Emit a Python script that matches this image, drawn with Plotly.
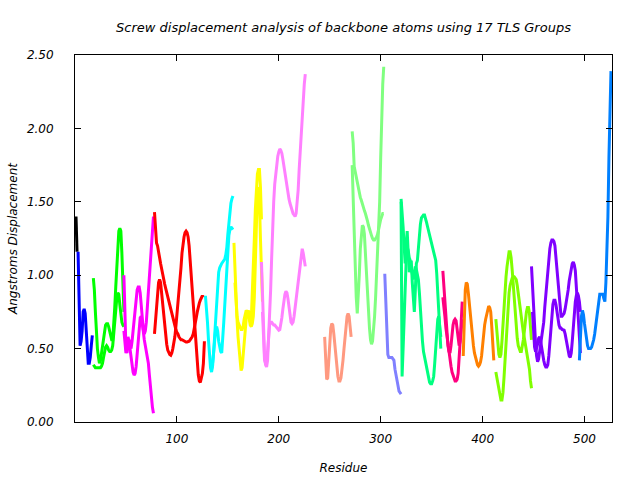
import plotly.graph_objects as go

# ---- data: screw displacement per residue, per TLS group (two atom traces for most groups) ----
g01_black_start = 1
g01_black_a = [1.40, 1.16]

g02_blue_start = 3
g02_blue_a = [1.16, 0.66, 0.52, 0.55, 0.62, 0.75, 0.77, 0.74, 0.62, 0.48, 0.40, 0.40, 0.44, 0.52, 0.59]

g03_green_start = 18
g03_green_a = [0.98, 0.90, 0.75, 0.60, 0.50, 0.44, 0.40, 0.42, 0.47, 0.53, 0.58, 0.63, 0.66, 0.67, 0.67, 0.65,
               0.61, 0.58, 0.56, 0.56, 0.65, 0.78, 0.92, 1.07, 1.20, 1.30, 1.32, 1.30, 1.15, 0.95, 0.75]
g03_green_b = [0.39, 0.38, 0.37, 0.37, 0.37, 0.37, 0.37, 0.37, 0.38, 0.40, 0.44, 0.48, 0.51, 0.52, 0.51, 0.49,
               0.48, 0.48, 0.49, 0.52, 0.60, 0.70, 0.78, 0.84, 0.88, 0.87, 0.80, 0.72, 0.68, 0.66, 0.65]

g04_magenta_start = 48
g04_magenta_a = [1.00, 0.75, 0.50, 0.47, 0.52, 0.56, 0.52, 0.50, 0.55, 0.62, 0.70, 0.78, 0.85, 0.90, 0.92, 0.92,
                 0.88, 0.78, 0.70, 0.63, 0.60, 0.62, 0.68, 0.78, 0.90, 1.02, 1.12, 1.25, 1.35, 1.40]
g04_magenta_b = [0.62, 0.55, 0.47, 0.52, 0.58, 0.55, 0.50, 0.45, 0.38, 0.34, 0.32, 0.33, 0.38, 0.48, 0.58, 0.66,
                 0.71, 0.72, 0.68, 0.62, 0.56, 0.52, 0.48, 0.46, 0.40, 0.32, 0.24, 0.16, 0.10, 0.06]

g05_red_start = 78
g05_red_a = [1.43, 1.30, 1.22, 1.20, 1.17, 1.12, 1.08, 1.04, 1.01, 0.98, 0.94, 0.91, 0.88, 0.85, 0.82, 0.79,
             0.76, 0.74, 0.72, 0.69, 0.66, 0.63, 0.61, 0.60, 0.58, 0.57, 0.56, 0.56, 0.555, 0.55, 0.545, 0.545,
             0.545, 0.545, 0.55, 0.56, 0.57, 0.58, 0.60, 0.63, 0.67, 0.71, 0.75, 0.79, 0.81, 0.83, 0.85, 0.86, 0.85]
g05_red_b = [0.60, 0.70, 0.78, 0.88, 0.95, 0.97, 0.95, 0.88, 0.80, 0.73, 0.67, 0.60, 0.53, 0.49, 0.47, 0.46,
             0.455, 0.47, 0.50, 0.54, 0.58, 0.65, 0.72, 0.80, 0.88, 0.95, 1.05, 1.15, 1.22, 1.26, 1.29, 1.30,
             1.29, 1.26, 1.20, 1.10, 1.01, 0.90, 0.78, 0.68, 0.60, 0.48, 0.38, 0.32, 0.28, 0.27, 0.30, 0.33, 0.40, 0.55]

g06_cyan_start_a = 128
g06_cyan_a = [0.86, 0.78, 0.68, 0.56, 0.45, 0.37, 0.34, 0.38, 0.47, 0.58, 0.70, 0.83, 0.95, 1.02, 1.05, 1.07,
              1.08, 1.09, 1.10, 1.11, 1.14, 1.19, 1.28, 1.37, 1.44, 1.49, 1.52, 1.54]
g06_cyan_start_b = 134
g06_cyan_b = [0.36, 0.40, 0.47, 0.58, 0.63, 0.65, 0.62, 0.55, 0.50, 0.48, 0.47, 0.55, 0.68, 0.80, 0.92, 1.05,
              1.17, 1.27, 1.31, 1.33, 1.32, 1.31]

g07_yellow_start_a = 156
g07_yellow_a = [1.22, 1.00, 0.82, 0.70, 0.58, 0.48, 0.40, 0.35, 0.37, 0.45, 0.58, 0.66, 0.70, 0.73, 0.76, 0.74,
                0.68, 0.70, 0.85, 1.05, 1.25, 1.45, 1.60, 1.69, 1.72, 1.72, 1.60, 1.38]
g07_yellow_start_b = 157
g07_yellow_b = [0.95, 0.80, 0.72, 0.68, 0.66, 0.65, 0.63, 0.63, 0.65, 0.70, 0.74, 0.76, 0.75, 0.73, 0.70, 0.66,
                0.65, 0.67, 0.72, 0.85, 1.10, 1.40, 1.57, 1.60, 1.50, 1.25, 1.00, 0.82]

g08_pink_start_a = 183
g08_pink_a = [1.09, 0.85, 0.60, 0.45, 0.39, 0.375, 0.42, 0.55, 0.69, 0.90, 1.12, 1.35, 1.50, 1.62, 1.70, 1.77,
              1.81, 1.84, 1.86, 1.85, 1.83, 1.79, 1.74, 1.69, 1.65, 1.60, 1.56, 1.52, 1.49, 1.46, 1.44, 1.42,
              1.41, 1.40, 1.42, 1.48, 1.58, 1.72, 1.85, 1.98, 2.10, 2.20, 2.30, 2.37]
g08_pink_start_b = 184
g08_pink_b = [0.75, 0.55, 0.42, 0.40, 0.42, 0.48, 0.57, 0.66, 0.68, 0.68, 0.67, 0.66, 0.66, 0.65, 0.64, 0.63,
              0.625, 0.63, 0.66, 0.71, 0.77, 0.83, 0.87, 0.89, 0.88, 0.84, 0.78, 0.72, 0.68, 0.67, 0.68, 0.72,
              0.78, 0.85, 0.92, 0.98, 1.02, 1.08, 1.14, 1.18, 1.15, 1.08, 1.06]

g09_salmon_start = 245
g09_salmon_a = [0.58, 0.40, 0.29, 0.30, 0.40, 0.55, 0.64, 0.67, 0.66, 0.60, 0.52, 0.44, 0.37, 0.31, 0.28, 0.28,
                0.30, 0.35, 0.42, 0.50, 0.58, 0.66, 0.72, 0.74, 0.72, 0.65, 0.58]

g10_lightgreen_start = 272
g10_lightgreen_a = [1.98, 1.90, 1.74, 1.70, 1.66, 1.63, 1.60, 1.56, 1.53, 1.51, 1.48, 1.46, 1.44, 1.42, 1.40, 1.37,
                    1.34, 1.31, 1.29, 1.27, 1.25, 1.24, 1.24, 1.25, 1.26, 1.28, 1.32, 1.35, 1.38, 1.40, 1.42, 1.42]
g10_lightgreen_b = [1.75, 1.50, 1.30, 1.05, 0.85, 0.74, 0.85, 1.00, 1.18, 1.28, 1.34, 1.33, 1.28, 1.15, 1.01, 0.88,
                    0.75, 0.64, 0.56, 0.53, 0.55, 0.62, 0.72, 0.85, 1.00, 1.15, 1.30, 1.50, 1.80, 2.10, 2.30, 2.42]

g11_periwinkle_start = 304
g11_periwinkle_a = [1.01, 0.80, 0.55, 0.46, 0.44, 0.44, 0.44, 0.44, 0.43, 0.42, 0.36, 0.32, 0.27, 0.24, 0.21, 0.20, 0.19]

g12_spring_start_a = 320
g12_spring_a = [1.52, 1.45, 1.33, 1.20, 1.08, 1.20, 1.30, 1.15, 1.02, 1.06, 1.10, 0.95, 0.82, 0.75, 0.90, 1.08,
                1.10, 1.20, 1.28, 1.35, 1.39, 1.40, 1.41, 1.41, 1.39, 1.36, 1.33, 1.30, 1.27, 1.24, 1.22, 1.20,
                1.17, 1.14, 1.10, 1.01, 0.88, 0.74, 0.55, 0.50]
g12_spring_start_b = 320
g12_spring_b = [1.50, 0.31, 0.50, 0.75, 0.97, 1.10, 1.19, 1.17, 1.12, 1.10, 1.05, 0.99, 0.97, 1.02, 1.06, 1.04, 1.00,
                0.97, 0.88, 0.75, 0.63, 0.55, 0.48, 0.44, 0.40, 0.36, 0.33, 0.30, 0.27, 0.26, 0.26, 0.28, 0.31,
                0.40, 0.50, 0.60, 0.70, 0.72, 0.65, 0.58]

g13_deeppink_start = 361
g13_deeppink_a = [1.03, 0.92, 0.80, 0.70, 0.60, 0.52, 0.48, 0.47, 0.52, 0.60, 0.66, 0.69, 0.70, 0.69, 0.63, 0.55,
                  0.52, 0.55, 0.62, 0.70]
g13_deeppink_b = [0.85, 0.80, 0.72, 0.64, 0.58, 0.52, 0.46, 0.42, 0.38, 0.34, 0.32, 0.30, 0.28, 0.28, 0.29, 0.33,
                  0.42, 0.55, 0.68, 0.82]

g14_orange_start = 381
g14_orange_a = [0.45, 0.72, 0.90, 0.95, 0.94, 0.88, 0.80, 0.72, 0.65, 0.58, 0.52, 0.47, 0.44, 0.41, 0.39, 0.38,
                0.39, 0.41, 0.45, 0.52, 0.60, 0.66, 0.70, 0.74, 0.77, 0.79, 0.78, 0.75, 0.65, 0.52, 0.42]

g15_chartreuse_start = 413
g15_chartreuse_a = [0.70, 0.62, 0.53, 0.46, 0.44, 0.46, 0.55, 0.68, 0.80, 0.90, 0.99, 1.06, 1.12, 1.16, 1.16, 1.12,
                    1.04, 0.94, 0.84, 0.74, 0.65, 0.57, 0.52, 0.49, 0.48, 0.48, 0.51, 0.56, 0.62, 0.70, 0.75, 0.78,
                    0.78, 0.74, 0.65, 0.56]
g15_chartreuse_b = [0.34, 0.30, 0.26, 0.21, 0.17, 0.15, 0.15, 0.20, 0.30, 0.42, 0.55, 0.68, 0.82, 0.88, 0.93, 0.96,
                    0.98, 0.99, 0.99, 0.98, 0.97, 0.93, 0.87, 0.81, 0.76, 0.71, 0.66, 0.61, 0.57, 0.53, 0.49, 0.45,
                    0.42, 0.36, 0.28, 0.23]

g16_violet_start_a = 448
g16_violet_a = [1.06, 0.90, 0.76, 0.62, 0.53, 0.45, 0.41, 0.43, 0.48, 0.52, 0.56, 0.60, 0.68, 0.78, 0.87, 0.96,
                1.05, 1.12, 1.18, 1.22, 1.24, 1.24, 1.23, 1.20, 1.12, 1.03, 0.92, 0.83, 0.76, 0.72, 0.72, 0.73,
                0.74, 0.77, 0.81, 0.85, 0.90, 0.96, 1.01, 1.05, 1.08, 1.09, 1.07, 1.03, 0.94, 0.83, 0.70, 0.58, 0.47]
g16_violet_start_b = 449
g16_violet_b = [0.75, 0.60, 0.51, 0.48, 0.50, 0.53, 0.57, 0.58, 0.55, 0.50, 0.46, 0.42, 0.39, 0.375, 0.375, 0.39,
                0.45, 0.55, 0.65, 0.74, 0.80, 0.83, 0.83, 0.80, 0.74, 0.69, 0.66, 0.64, 0.64, 0.63, 0.63, 0.625,
                0.60, 0.56, 0.51, 0.47, 0.45, 0.44, 0.47, 0.55, 0.65, 0.74, 0.82, 0.86, 0.88, 0.86, 0.82, 0.75]

g17_azure_start = 495
g17_azure_a = [0.42, 0.58, 0.72, 0.76, 0.73, 0.67, 0.61, 0.56, 0.52, 0.50, 0.50, 0.50, 0.51, 0.53, 0.56, 0.60,
               0.66, 0.72, 0.78, 0.84, 0.87, 0.87, 0.87, 0.87, 0.84, 0.82, 0.95, 1.15, 1.40, 1.80, 2.15, 2.39]

x_tick_values = [100, 200, 300, 400, 500]
y_tick_values = [0.0, 0.5, 1.0, 1.5, 2.0, 2.5]

traces = [
    ("#000000", g01_black_start, g01_black_a),
    ("#0000FF", g02_blue_start, g02_blue_a),
    ("#00FF00", g03_green_start, g03_green_a),
    ("#00FF00", g03_green_start, g03_green_b),
    ("#FF00FF", g04_magenta_start, g04_magenta_a),
    ("#FF00FF", g04_magenta_start, g04_magenta_b),
    ("#FF0000", g05_red_start, g05_red_a),
    ("#FF0000", g05_red_start, g05_red_b),
    ("#00FFFF", g06_cyan_start_a, g06_cyan_a),
    ("#00FFFF", g06_cyan_start_b, g06_cyan_b),
    ("#FFFF00", g07_yellow_start_a, g07_yellow_a),
    ("#FFFF00", g07_yellow_start_b, g07_yellow_b),
    ("#FF80FF", g08_pink_start_a, g08_pink_a),
    ("#FF80FF", g08_pink_start_b, g08_pink_b),
    ("#FF9980", g09_salmon_start, g09_salmon_a),
    ("#80FF80", g10_lightgreen_start, g10_lightgreen_a),
    ("#80FF80", g10_lightgreen_start, g10_lightgreen_b),
    ("#8080FF", g11_periwinkle_start, g11_periwinkle_a),
    ("#00FF80", g12_spring_start_a, g12_spring_a),
    ("#00FF80", g12_spring_start_b, g12_spring_b),
    ("#FF0080", g13_deeppink_start, g13_deeppink_a),
    ("#FF0080", g13_deeppink_start, g13_deeppink_b),
    ("#FF8000", g14_orange_start, g14_orange_a),
    ("#80FF00", g15_chartreuse_start, g15_chartreuse_a),
    ("#80FF00", g15_chartreuse_start, g15_chartreuse_b),
    ("#8000FF", g16_violet_start_a, g16_violet_a),
    ("#8000FF", g16_violet_start_b, g16_violet_b),
    ("#0080FF", g17_azure_start, g17_azure_a),
]

fig = go.Figure()
for color, start, vals in traces:
    fig.add_trace(go.Scatter(
        x=list(range(start, start + len(vals))), y=vals, mode="lines",
        line=dict(color=color, width=3), showlegend=False, hoverinfo="skip"))

font = dict(family="DejaVu Sans", size=12, color="black", style="italic")
title_font = dict(family="DejaVu Sans", size=13, color="black", style="italic")

axis_common = dict(showline=True, linecolor="black", linewidth=1, mirror="ticks",
                   ticks="inside", ticklen=6, tickcolor="black", showgrid=False,
                   zeroline=False, automargin=False, tickfont=font)

fig.update_layout(
    width=640, height=480,
    margin=dict(l=75, r=28, t=55, b=58),
    paper_bgcolor="white", plot_bgcolor="white",
    font=font,
    title=dict(text="Screw displacement analysis of backbone atoms using 17 TLS Groups",
               x=0.5, xref="paper", xanchor="center", y=1 - 27 / 480, yref="container",
               yanchor="middle", font=title_font),
    xaxis=dict(range=[0, 527], tickvals=x_tick_values,
               title=dict(text="Residue", font=font, standoff=18), ticklabelstandoff=6, **axis_common),
    yaxis=dict(range=[0, 2.5], tickvals=y_tick_values, tickformat=".2f",
               title=dict(text="Angstroms Displacement", font=font, standoff=6),
               ticklabelstandoff=18, **axis_common),
)

fig.write_html("out.html")
